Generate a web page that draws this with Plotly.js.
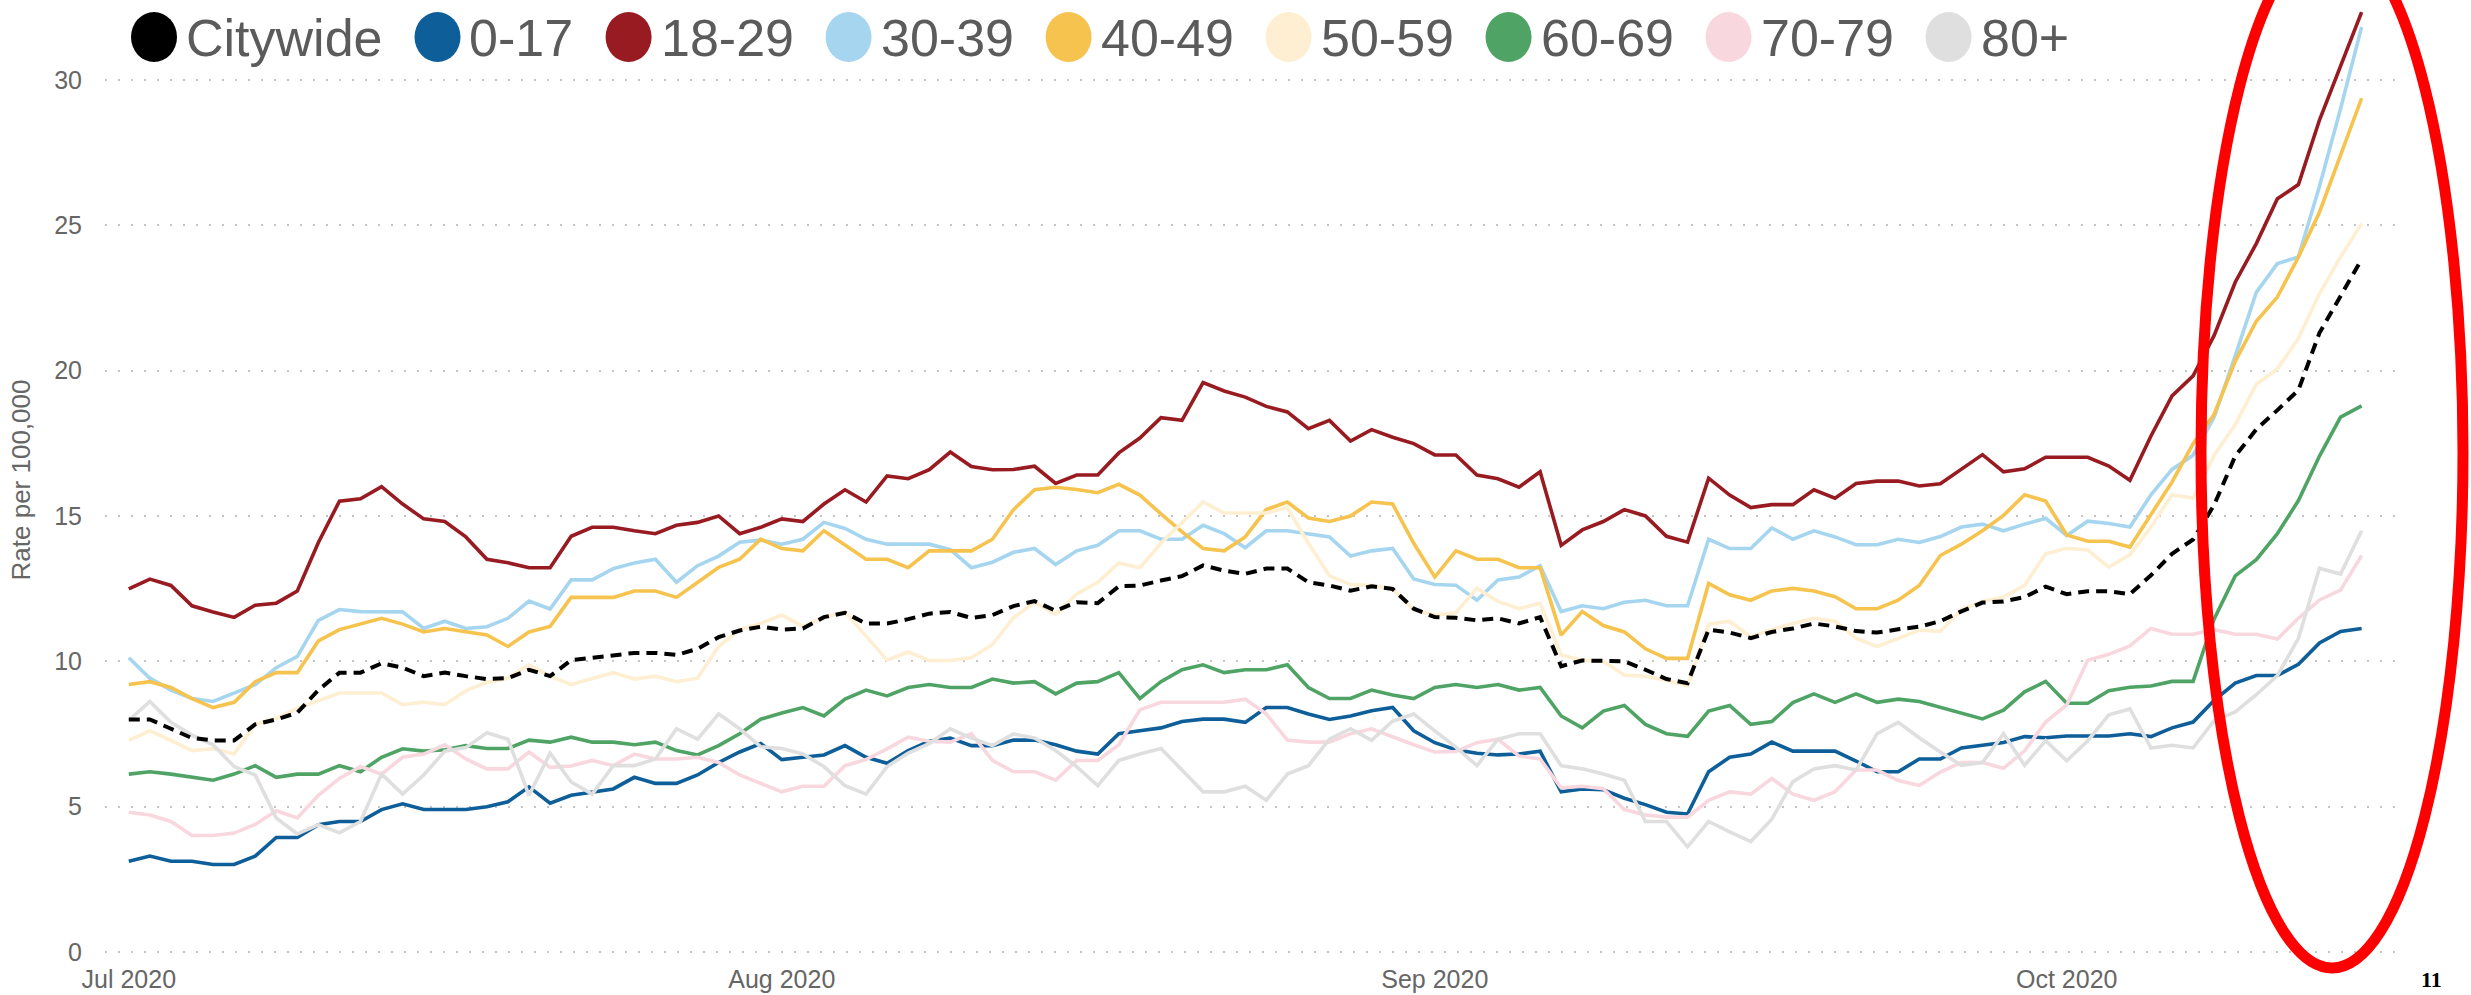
<!DOCTYPE html>
<html>
<head>
<meta charset="utf-8">
<script src="https://cdn.plot.ly/plotly-3.0.1.min.js"></script>
<style>
  html, body { margin: 0; padding: 0; background: #ffffff; }
  #chart { width: 2471px; height: 995px; }
</style>
</head>
<body>
<div id="chart"></div>
<script>
// ---------------- DATA ----------------
const startDate = '2020-07-01';
const nDays = 107; // Jul 1 .. Oct 15, 2020 (daily)

const seriesNames = ['Citywide', '0-17', '18-29', '30-39', '40-49', '50-59', '60-69', '70-79', '80+'];
const seriesColors = ['#000000', '#0d5e99', '#981b22', '#a6d6ef', '#f6c34e', '#feefd2', '#4fa465', '#f9d7df', '#dfdfdf'];

const citywide = [
  8.0, 8.0, 7.68, 7.36, 7.28, 7.28, 7.83, 8.0, 8.23, 9.01, 9.61, 9.61, 9.93, 9.78, 9.49, 9.61, 9.49, 9.39, 9.42, 9.71, 9.49, 10.04,
  10.12, 10.22, 10.29, 10.29, 10.22, 10.43, 10.83, 11.06, 11.19, 11.09, 11.13, 11.52, 11.67, 11.30, 11.30, 11.45, 11.64, 11.70, 11.49, 11.59, 11.9,
  12.07, 11.74, 12.03, 12.0, 12.58, 12.61, 12.78, 12.93, 13.30, 13.12, 13.01, 13.19, 13.19, 12.72, 12.61, 12.43, 12.58, 12.49, 11.81, 11.52, 11.5,
  11.41, 11.48, 11.30, 11.52, 9.83, 10.03, 10.03, 10.0, 9.71, 9.39, 9.25, 11.09, 10.99, 10.80, 11.01, 11.13, 11.30, 11.20, 11.04, 10.99, 11.1,
  11.19, 11.38, 11.72, 12.02, 12.06, 12.21, 12.57, 12.31, 12.41, 12.41, 12.31, 12.96, 13.70, 14.19, 15.38, 17.06, 17.98, 18.64, 19.33, 21.30, 22.59, 23.83
];
const age0_17 = [
  3.12, 3.30, 3.12, 3.12, 3.01, 3.01, 3.30, 3.94, 3.94, 4.38, 4.49, 4.49, 4.90, 5.10, 4.90, 4.90, 4.90, 5.0, 5.17, 5.68, 5.12, 5.39,
  5.51, 5.61, 6.01, 5.80, 5.80, 6.09, 6.52, 6.88, 7.17, 6.62, 6.70, 6.78, 7.10, 6.70, 6.49, 6.93, 7.25, 7.36, 7.10, 7.10, 7.29,
  7.29, 7.13, 6.91, 6.81, 7.51, 7.61, 7.71, 7.93, 8.01, 8.01, 7.90, 8.41, 8.41, 8.19, 8.0, 8.12, 8.30, 8.41, 7.61, 7.20, 6.96,
  6.84, 6.78, 6.81, 6.91, 5.51, 5.61, 5.58, 5.29, 5.07, 4.81, 4.75, 6.20, 6.70, 6.81, 7.22, 6.91, 6.91, 6.91, 6.57, 6.20, 6.2,
  6.64, 6.64, 7.02, 7.11, 7.21, 7.41, 7.37, 7.43, 7.43, 7.43, 7.51, 7.41, 7.71, 7.91, 8.66, 9.25, 9.51, 9.51, 9.90, 10.63, 11.03, 11.13
];
const age18_29 = [
  12.49, 12.83, 12.61, 11.91, 11.70, 11.51, 11.93, 12.0, 12.42, 14.09, 15.51, 15.59, 16.01, 15.41, 14.90, 14.81, 14.28, 13.51, 13.39, 13.22, 13.22, 14.3,
  14.61, 14.61, 14.49, 14.39, 14.68, 14.78, 15.0, 14.39, 14.61, 14.90, 14.81, 15.41, 15.90, 15.48, 16.38, 16.28, 16.59, 17.20, 16.70, 16.59, 16.6,
  16.71, 16.12, 16.41, 16.41, 17.17, 17.68, 18.38, 18.29, 19.59, 19.30, 19.09, 18.77, 18.58, 18.0, 18.29, 17.58, 17.97, 17.71, 17.49, 17.10, 17.1,
  16.41, 16.28, 15.99, 16.52, 13.99, 14.52, 14.81, 15.22, 15.0, 14.30, 14.10, 16.30, 15.72, 15.29, 15.39, 15.39, 15.90, 15.61, 16.12, 16.20, 16.2,
  16.03, 16.11, 16.62, 17.11, 16.52, 16.62, 17.02, 17.02, 17.02, 16.72, 16.23, 17.75, 19.13, 19.82, 21.21, 23.04, 24.37, 25.91, 26.40, 28.62, 30.49, 32.33
];
const age30_39 = [
  10.12, 9.42, 9.01, 8.72, 8.62, 8.91, 9.20, 9.78, 10.17, 11.41, 11.78, 11.71, 11.71, 11.70, 11.13, 11.38, 11.13, 11.19, 11.48, 12.07, 11.80, 12.8,
  12.80, 13.19, 13.38, 13.51, 12.72, 13.29, 13.62, 14.10, 14.17, 14.03, 14.20, 14.78, 14.57, 14.20, 14.03, 14.03, 14.03, 13.84, 13.22, 13.41, 13.75,
  13.88, 13.33, 13.80, 13.99, 14.49, 14.49, 14.20, 14.20, 14.68, 14.39, 13.91, 14.49, 14.49, 14.39, 14.28, 13.62, 13.80, 13.88, 12.83, 12.64, 12.62,
  12.10, 12.80, 12.90, 13.29, 11.71, 11.91, 11.81, 12.03, 12.10, 11.91, 11.91, 14.20, 13.88, 13.88, 14.59, 14.20, 14.49, 14.28, 14.01, 14.01, 14.2,
  14.09, 14.29, 14.62, 14.72, 14.49, 14.72, 14.92, 14.33, 14.82, 14.74, 14.62, 15.73, 16.60, 17.09, 18.40, 20.51, 22.69, 23.68, 23.91, 26.34, 29.01, 31.82
];
const age40_49 = [
  9.20, 9.30, 9.10, 8.72, 8.41, 8.59, 9.30, 9.61, 9.61, 10.70, 11.09, 11.30, 11.48, 11.28, 11.01, 11.13, 11.01, 10.91, 10.51, 11.01, 11.20, 12.2,
  12.20, 12.20, 12.42, 12.42, 12.20, 12.72, 13.23, 13.51, 14.20, 13.88, 13.80, 14.49, 13.99, 13.51, 13.51, 13.22, 13.80, 13.80, 13.80, 14.20, 15.22,
  15.90, 15.99, 15.91, 15.80, 16.09, 15.72, 15.07, 14.45, 13.88, 13.80, 14.28, 15.22, 15.48, 14.93, 14.81, 15.0, 15.48, 15.41, 14.06, 12.90, 13.80,
  13.51, 13.51, 13.22, 13.22, 10.90, 11.71, 11.23, 11.01, 10.43, 10.10, 10.10, 12.68, 12.29, 12.10, 12.42, 12.51, 12.42, 12.22, 11.81, 11.81, 12.1,
  12.61, 13.64, 14.03, 14.49, 15.02, 15.73, 15.51, 14.35, 14.13, 14.13, 13.93, 15.04, 16.17, 17.49, 18.50, 20.32, 21.70, 22.53, 23.91, 25.45, 27.39, 29.37
];
const age50_59 = [
  7.28, 7.61, 7.28, 6.93, 6.99, 6.81, 7.83, 8.04, 8.38, 8.65, 8.91, 8.91, 8.91, 8.51, 8.59, 8.51, 8.99, 9.28, 9.42, 9.88, 9.49, 9.2,
  9.42, 9.61, 9.39, 9.49, 9.30, 9.42, 10.51, 11.09, 11.30, 11.59, 11.20, 11.52, 11.70, 10.87, 10.04, 10.32, 10.03, 10.03, 10.12, 10.58, 11.5,
  12.03, 11.62, 12.32, 12.72, 13.38, 13.22, 14.06, 14.78, 15.48, 15.10, 15.10, 15.10, 15.29, 14.06, 12.94, 12.64, 12.61, 12.49, 11.77, 11.59, 11.67,
  12.51, 12.06, 11.81, 12.0, 10.22, 10.04, 10.0, 9.52, 9.49, 9.35, 9.16, 11.28, 11.38, 10.84, 11.09, 11.30, 11.48, 11.38, 10.80, 10.51, 10.8,
  11.07, 11.03, 11.78, 12.06, 12.21, 12.61, 13.70, 13.89, 13.83, 13.24, 13.66, 14.62, 15.73, 15.61, 17.09, 18.14, 19.53, 20.06, 21.11, 22.65, 23.91, 25.06
];
const age60_69 = [
  6.12, 6.20, 6.12, 6.01, 5.91, 6.12, 6.41, 6.01, 6.12, 6.12, 6.41, 6.20, 6.70, 6.99, 6.91, 6.96, 7.10, 7.0, 7.0, 7.29, 7.22, 7.39,
  7.22, 7.22, 7.13, 7.22, 6.93, 6.78, 7.10, 7.51, 8.01, 8.22, 8.41, 8.12, 8.70, 9.01, 8.81, 9.10, 9.20, 9.10, 9.10, 9.39, 9.25,
  9.30, 8.88, 9.25, 9.30, 9.61, 8.72, 9.30, 9.71, 9.88, 9.61, 9.71, 9.71, 9.88, 9.10, 8.72, 8.72, 9.01, 8.84, 8.72, 9.10, 9.2,
  9.10, 9.20, 9.01, 9.10, 8.12, 7.71, 8.29, 8.48, 7.83, 7.51, 7.42, 8.29, 8.48, 7.83, 7.93, 8.58, 8.88, 8.59, 8.88, 8.59, 8.7,
  8.62, 8.42, 8.22, 8.02, 8.32, 8.95, 9.31, 8.56, 8.56, 8.99, 9.11, 9.15, 9.31, 9.31, 11.46, 12.94, 13.50, 14.39, 15.53, 17.06, 18.40, 18.79
];
const age70_79 = [
  4.81, 4.71, 4.49, 4.01, 4.01, 4.09, 4.39, 4.86, 4.61, 5.39, 5.97, 6.38, 6.12, 6.70, 6.81, 7.13, 6.64, 6.30, 6.30, 6.88, 6.35, 6.4,
  6.59, 6.41, 6.81, 6.64, 6.64, 6.70, 6.52, 6.09, 5.80, 5.51, 5.70, 5.70, 6.41, 6.62, 6.99, 7.39, 7.25, 7.22, 7.51, 6.59, 6.2,
  6.20, 5.91, 6.59, 6.59, 7.13, 8.33, 8.59, 8.59, 8.59, 8.59, 8.70, 8.19, 7.29, 7.22, 7.22, 7.51, 7.68, 7.39, 7.13, 6.88, 6.9,
  7.20, 7.32, 6.74, 6.64, 5.65, 5.70, 5.62, 4.90, 4.71, 4.64, 4.64, 5.22, 5.51, 5.43, 5.97, 5.43, 5.22, 5.51, 6.26, 6.26, 5.9,
  5.73, 6.19, 6.52, 6.52, 6.32, 6.92, 7.91, 8.50, 10.04, 10.24, 10.53, 11.13, 10.93, 10.93, 11.09, 10.93, 10.93, 10.77, 11.48, 12.11, 12.45, 13.64
];
const age80plus = [
  7.97, 8.62, 7.90, 7.46, 7.13, 6.38, 6.09, 4.61, 4.06, 4.38, 4.10, 4.49, 6.12, 5.43, 6.09, 6.91, 7.03, 7.54, 7.32, 5.39, 6.84, 5.85,
  5.43, 6.41, 6.41, 6.64, 7.68, 7.32, 8.19, 7.68, 7.06, 7.0, 6.81, 6.38, 5.72, 5.43, 6.38, 6.84, 7.17, 7.68, 7.36, 7.10, 7.5,
  7.36, 6.93, 6.38, 5.72, 6.59, 6.81, 7.0, 6.26, 5.51, 5.51, 5.70, 5.22, 6.12, 6.41, 7.32, 7.68, 7.28, 7.94, 8.19, 7.61, 7.05,
  6.41, 7.32, 7.51, 7.51, 6.41, 6.30, 6.12, 5.91, 4.49, 4.49, 3.62, 4.49, 4.13, 3.80, 4.57, 5.86, 6.30, 6.41, 6.26, 7.51, 7.9,
  7.37, 6.88, 6.42, 6.52, 7.51, 6.42, 7.27, 6.58, 7.27, 8.16, 8.36, 7.02, 7.11, 7.02, 7.96, 8.26, 8.85, 9.51, 10.79, 13.20, 13.00, 14.49
];

const yTickVals = [0, 5, 10, 15, 20, 25, 30];
const yTitle = 'Rate per 100,000';
const cornerMark = '11';

// ---------------- BUILD ----------------
const dates = [];
{
  const d0 = new Date(startDate + 'T00:00:00Z');
  for (let i = 0; i < nDays; i++) {
    const d = new Date(d0.getTime() + i * 86400000);
    dates.push(d.toISOString().slice(0, 10));
  }
}
const seriesValues = [citywide, age0_17, age18_29, age30_39, age40_49, age50_59, age60_69, age70_79, age80plus];

const W = 2471, H = 995;
const M = { l: 105, r: 74, t: 0, b: 35 };
const PW = W - M.l - M.r, PH = H - M.t - M.b;
const px = x => (x - M.l) / PW;          // pixel -> paper x
const py = y => (H - M.b - y) / PH;      // pixel -> paper y

const FONT = 'Liberation Sans, Arial, Helvetica, sans-serif';

const traces = [];
// age groups first, citywide drawn last (on top)
for (let i = 1; i < seriesNames.length; i++) {
  traces.push({
    type: 'scatter', mode: 'lines', name: seriesNames[i],
    x: dates, y: seriesValues[i],
    line: { color: seriesColors[i], width: 3.6 },
    showlegend: false, hoverinfo: 'skip'
  });
}
traces.push({
  type: 'scatter', mode: 'lines', name: seriesNames[0],
  x: dates, y: seriesValues[0],
  line: { color: seriesColors[0], width: 4, dash: '11px,7px' },
  showlegend: false, hoverinfo: 'skip'
});

// custom legend (big round swatches + text), laid out from the names
const shapes = [];
const annotations = [];
const legFontSize = 52;
const ctx = document.createElement('canvas').getContext('2d');
ctx.font = legFontSize + 'px "Liberation Sans", Arial, sans-serif';
let cx = 154;            // centre of first swatch (px)
const legY = 37;         // vertical centre (px)
const swW = 46, swH = 50, txtGap = 9, itemGap = 32;
for (let i = 0; i < seriesNames.length; i++) {
  shapes.push({
    type: 'circle', xref: 'paper', yref: 'paper',
    x0: px(cx - swW / 2), x1: px(cx + swW / 2),
    y0: py(legY + swH / 2), y1: py(legY - swH / 2),
    fillcolor: seriesColors[i], line: { width: 0 }, layer: 'above'
  });
  const tx = cx + swW / 2 + txtGap;
  annotations.push({
    xref: 'paper', yref: 'paper', x: px(tx - 2), y: py(legY + 1),
    xanchor: 'left', yanchor: 'middle', showarrow: false,
    text: seriesNames[i], font: { family: FONT, size: legFontSize, color: '#5b5b5b' }
  });
  const tw = ctx.measureText(seriesNames[i]).width;
  cx = tx + tw + itemGap + swW / 2;
}

// red highlight ellipse
const ell = { cx: 2332, cy: 452, a: 131, b: 516 };
shapes.push({
  type: 'circle', xref: 'paper', yref: 'paper',
  x0: px(ell.cx - ell.a), x1: px(ell.cx + ell.a),
  y0: py(ell.cy + ell.b), y1: py(ell.cy - ell.b),
  line: { color: '#ff0000', width: 11 }, fillcolor: 'rgba(0,0,0,0)', layer: 'above'
});

// small page mark bottom-right (kept fully inside the picture)
annotations.push({
  xref: 'paper', yref: 'paper', x: px(2431), y: py(994),
  xanchor: 'center', yanchor: 'bottom', showarrow: false,
  text: '<b>' + cornerMark + '</b>',
  font: { family: 'Liberation Serif, Times New Roman, serif', size: 22, color: '#000000' }
});

const layout = {
  width: W, height: H,
  margin: M,
  paper_bgcolor: '#ffffff', plot_bgcolor: '#ffffff',
  showlegend: false,
  font: { family: FONT, color: '#666666', size: 25 },
  xaxis: {
    type: 'date',
    range: ['2020-06-29 20:53', '2020-10-16 16:19'],
    tick0: '2020-07-01', dtick: 'M1', tickformat: '%b %Y',
    showgrid: false, zeroline: false, showline: false, ticks: '',
    tickfont: { family: FONT, size: 25, color: '#666666' },
    ticklabelstandoff: 2
  },
  yaxis: {
    range: [-0.275, 32.75],
    tickvals: yTickVals,
    showgrid: true, gridcolor: '#c4c4c4', gridwidth: 2, griddash: '2px,11px',
    zeroline: false, showline: false, ticks: '',
    tickfont: { family: FONT, size: 25, color: '#666666' },
    ticklabelstandoff: 22,
    title: { text: yTitle, font: { family: FONT, size: 26, color: '#666666' }, standoff: 16 }
  },
  shapes: shapes,
  annotations: annotations
};

Plotly.newPlot('chart', traces, layout, { displayModeBar: false, staticPlot: true });
</script>
</body>
</html>
